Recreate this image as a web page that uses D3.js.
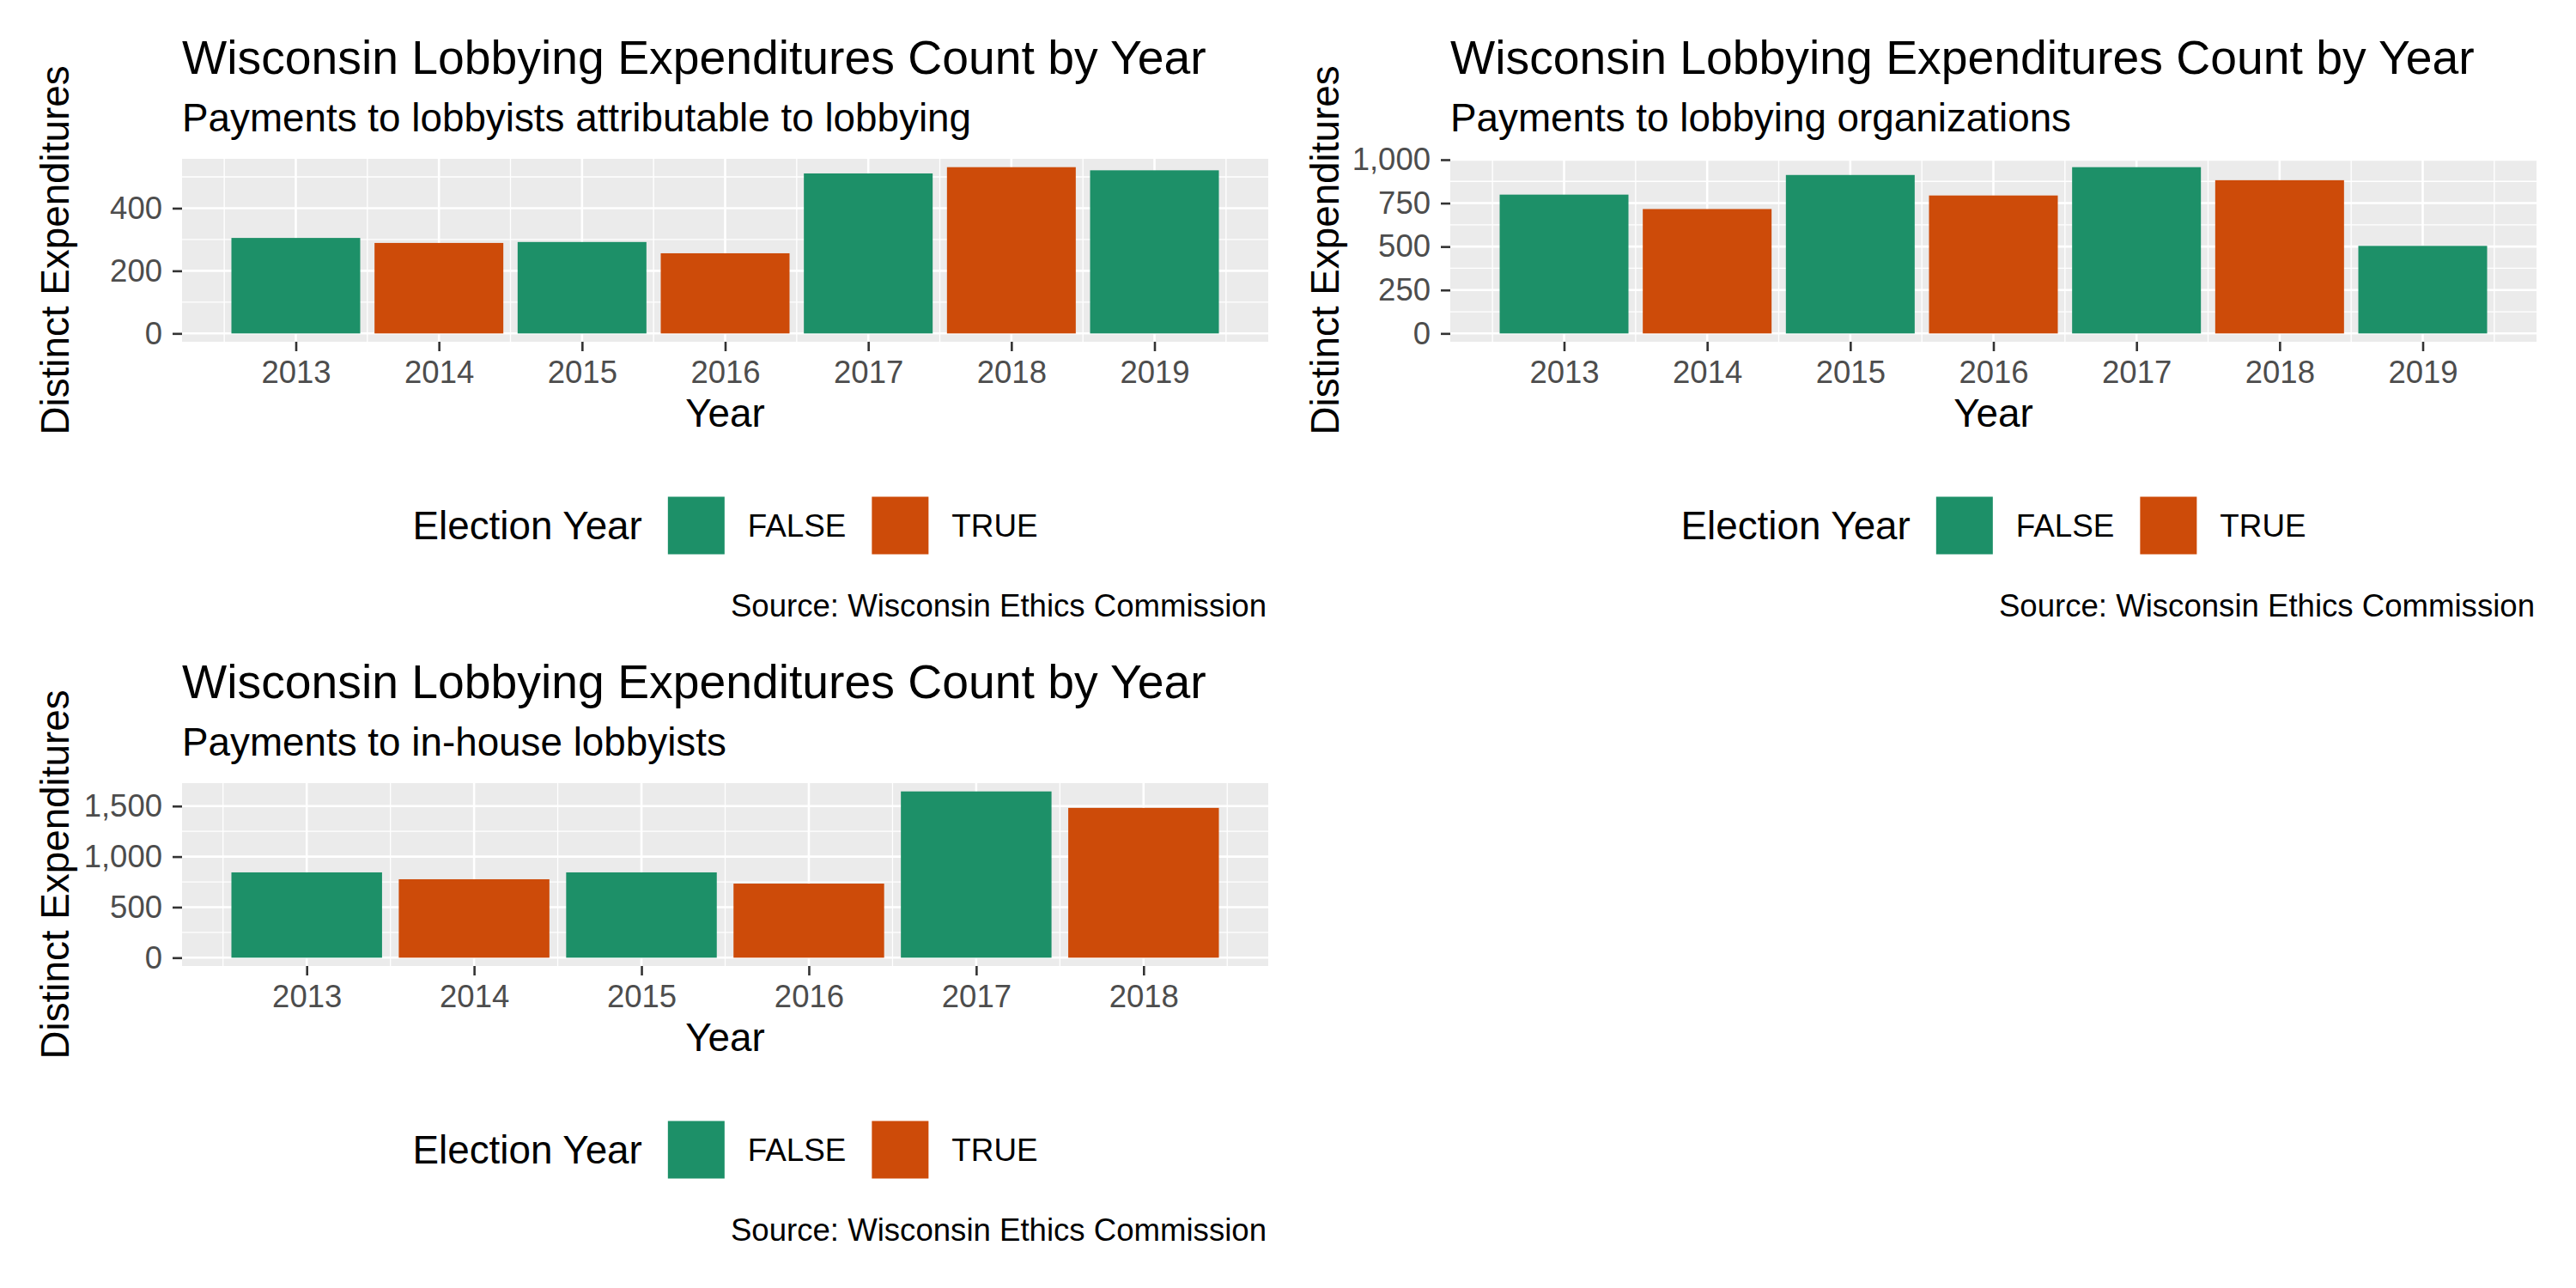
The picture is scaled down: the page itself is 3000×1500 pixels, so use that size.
<!DOCTYPE html>
<html>
<head>
<meta charset="utf-8">
<script src="https://cdn.jsdelivr.net/npm/d3@7"></script>
<style>
  body { margin: 0; background: #ffffff; }
  text { font-family: "Liberation Sans", Arial, Helvetica, sans-serif; }
</style>
</head>
<body>
<script>
// data
var years = [2013, 2014, 2015, 2016, 2017, 2018, 2019];
var electionYear = ['FALSE', 'TRUE', 'FALSE', 'TRUE', 'FALSE', 'TRUE', 'FALSE'];
var lobbyistCounts = [305, 289, 292, 256, 511, 531, 521];
var orgCounts = [799, 716, 912, 794, 957, 882, 504];

var inHouseYears = [2013, 2014, 2015, 2016, 2017, 2018];
var inHouseElection = ['FALSE', 'TRUE', 'FALSE', 'TRUE', 'FALSE', 'TRUE'];
var inHouseCounts = [844, 776, 844, 733, 1645, 1482];

var lobbyistTicks = [0, 200, 400];
var orgTicks = [0, 250, 500, 750, 1000];
var inHouseTicks = [0, 500, 1000, 1500];

var legendKeys = ['FALSE', 'TRUE'];
var fillColors = {'FALSE': '#1D9068', 'TRUE': '#CD4B09'};

var titleText = 'Wisconsin Lobbying Expenditures Count by Year';
var captionText = 'Source: Wisconsin Ethics Commission';

var svgctrl = d3.select('body').append('svg').attr('width', 3000).attr('height', 1500);
svgctrl.append('rect').attr('width', 3000).attr('height', 1500).attr('fill', '#ffffff');

function drawPanel(p) {
    var g = svgctrl.append('g');
    var n = p.years.length;
    var lo = p.years[0] - 0.45, hi = p.years[n - 1] + 0.45;
    var pad = (hi - lo) * 0.05;
    var x = d3.scaleLinear().domain([lo - pad, hi + pad]).range([p.left, p.right]);
    var ymax = d3.max(p.counts);
    var y = d3.scaleLinear().domain([-0.05 * ymax, 1.05 * ymax]).range([p.bottom, p.top]);

    // panel background
    g.append('rect').attr('x', p.left).attr('y', p.top)
        .attr('width', p.right - p.left).attr('height', p.bottom - p.top).attr('fill', '#EBEBEB');

    // minor grid
    var step = p.ticks[1] - p.ticks[0];
    var yMinor = [];
    for (var i = -1; i < p.ticks.length; i++) {
        var v = p.ticks[0] + step * (i + 0.5);
        if (v > y.domain()[0] && v < y.domain()[1]) yMinor.push(v);
    }
    var xMinor = [p.years[0] - 0.5].concat(p.years.map(function (d) { return d + 0.5; }));
    g.selectAll('.ymin').data(yMinor).enter().append('line')
        .attr('x1', p.left).attr('x2', p.right).attr('y1', y).attr('y2', y)
        .attr('stroke', '#ffffff').attr('stroke-width', 1.3);
    g.selectAll('.xmin').data(xMinor).enter().append('line')
        .attr('x1', x).attr('x2', x).attr('y1', p.top).attr('y2', p.bottom)
        .attr('stroke', '#ffffff').attr('stroke-width', 1.3);
    // major grid
    g.selectAll('.ymaj').data(p.ticks).enter().append('line')
        .attr('x1', p.left).attr('x2', p.right).attr('y1', y).attr('y2', y)
        .attr('stroke', '#ffffff').attr('stroke-width', 2.6);
    g.selectAll('.xmaj').data(p.years).enter().append('line')
        .attr('x1', x).attr('x2', x).attr('y1', p.top).attr('y2', p.bottom)
        .attr('stroke', '#ffffff').attr('stroke-width', 2.6);

    // bars
    g.selectAll('.bar').data(p.years).enter().append('rect')
        .attr('x', function (d) { return x(d - 0.45); })
        .attr('width', function (d) { return x(d + 0.45) - x(d - 0.45); })
        .attr('y', function (d, i) { return y(p.counts[i]); })
        .attr('height', function (d, i) { return y(0) - y(p.counts[i]); })
        .attr('fill', function (d, i) { return fillColors[p.flags[i]]; });

    // axes
    var yAxis = g.append('g').attr('transform', 'translate(' + p.left + ',0)')
        .call(d3.axisLeft(y).tickValues(p.ticks).tickFormat(d3.format(',')).tickSize(11).tickPadding(12));
    var xAxis = g.append('g').attr('transform', 'translate(0,' + p.bottom + ')')
        .call(d3.axisBottom(x).tickValues(p.years).tickFormat(d3.format('d')).tickSize(11).tickPadding(11));
    [yAxis, xAxis].forEach(function (a) {
        a.select('.domain').remove();
        a.selectAll('line').attr('stroke', '#333333').attr('stroke-width', 2.6);
        a.selectAll('text').attr('fill', '#4D4D4D').attr('font-size', 36.5)
            .style('font-family', '"Liberation Sans", Arial, sans-serif');
    });

    // titles
    g.append('text').attr('x', p.left).attr('y', p.top - 99).attr('font-size', 55.3).attr('fill', '#000').text(titleText);
    g.append('text').attr('x', p.left).attr('y', p.top - 32).attr('font-size', 45.8).attr('fill', '#000').text(p.subtitle);
    var cx = (p.left + p.right) / 2;
    g.append('text').attr('x', cx).attr('y', p.bottom + 99).attr('text-anchor', 'middle')
        .attr('font-size', 45.8).attr('fill', '#000').text('Year');
    g.append('text').attr('transform', 'translate(' + p.yTitleX + ',' + ((p.top + p.bottom) / 2) + ') rotate(-90)')
        .attr('text-anchor', 'middle').attr('font-size', 45.8).attr('fill', '#000').text('Distinct Expenditures');

    // legend
    var ly = p.bottom + 214;
    var leg = g.append('g');
    var lt = leg.append('text').attr('y', ly + 16).attr('font-size', 45.8).attr('fill', '#000').text('Election Year');
    var cur = lt.node().getComputedTextLength() + 30;
    legendKeys.forEach(function (k) {
        leg.append('rect').attr('x', cur).attr('y', ly - 33.5).attr('width', 66).attr('height', 67).attr('fill', fillColors[k]);
        cur += 66 + 27;
        var t = leg.append('text').attr('x', cur).attr('y', ly + 13).attr('font-size', 36.8).attr('fill', '#000').text(k);
        cur += t.node().getComputedTextLength() + 30;
    });
    var legW = cur - 30;
    leg.attr('transform', 'translate(' + (cx - legW / 2) + ',0)');

    // caption
    g.append('text').attr('x', p.right - 2).attr('y', p.bottom + 320).attr('text-anchor', 'end')
        .attr('font-size', 36.6).attr('fill', '#000').text(captionText);
}

drawPanel({years: years, counts: lobbyistCounts, flags: electionYear, ticks: lobbyistTicks,
    subtitle: 'Payments to lobbyists attributable to lobbying',
    left: 212, right: 1477, top: 185, bottom: 398, yTitleX: 80});
drawPanel({years: years, counts: orgCounts, flags: electionYear, ticks: orgTicks,
    subtitle: 'Payments to lobbying organizations',
    left: 1689, right: 2954, top: 185, bottom: 398, yTitleX: 1559});
drawPanel({years: inHouseYears, counts: inHouseCounts, flags: inHouseElection, ticks: inHouseTicks,
    subtitle: 'Payments to in-house lobbyists',
    left: 212, right: 1477, top: 912, bottom: 1125, yTitleX: 80});
</script>
</body>
</html>
